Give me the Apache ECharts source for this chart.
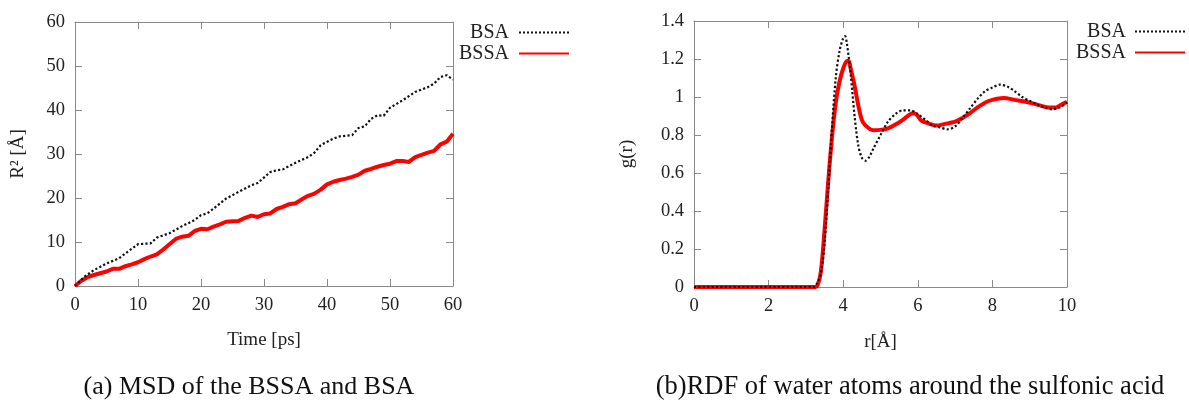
<!DOCTYPE html>
<html>
<head>
<meta charset="utf-8">
<script src="https://cdn.jsdelivr.net/npm/echarts@6/dist/echarts.min.js"></script>
<style>html,body{margin:0;padding:0;background:#fff}#c{width:1189px;height:401px}</style>
</head>
<body>
<div id="c"></div>
<script>
// ---- MSD (a) ----
const msdBsaTime = [0,1.5,3,5,7,8,10,12,13,15,17,19,20,21,22,24,26,28,29,31,32,33,35,37,38,39,41,42,44,45,46,47,48,49,50,52,54,56,57,58,59,60];
const msdBsa = [0,2.1,3.6,5.1,6.3,7.4,9.5,9.7,11,12,13.6,15,16.1,16.5,17.6,19.9,21.4,22.9,23.4,25.9,26.3,26.5,28,29.3,30.3,32,33.5,34,34.3,35.9,36.3,38,38.8,38.7,40.5,42.2,44.1,45.2,46,47.5,47.9,46.9];
const msdBssaTime = [0,1,2,3,4,5,6,7,8,9,10,11,12,13,14,15,16,17,18,19,20,21,22,23,24,25,26,27,28,29,30,31,32,33,34,35,36,37,38,39,40,41,42,43,44,45,46,47,48,49,50,51,52,53,54,55,56,57,58,59,60];
const msdBssa = [0,1.2,2,2.5,2.9,3.3,3.9,3.9,4.5,4.9,5.4,6.1,6.7,7.2,8.3,9.5,10.7,11.2,11.4,12.5,13,12.9,13.5,14,14.6,14.7,14.8,15.5,16,15.7,16.3,16.5,17.5,18,18.6,18.8,19.7,20.5,21,21.9,23.1,23.7,24.1,24.4,24.8,25.3,26.2,26.6,27.1,27.5,27.8,28.4,28.4,28.2,29.3,29.8,30.3,30.7,32.2,32.8,34.6];
// ---- RDF (b) ----
const rdfBsaR = [0,3.2,3.3,3.4,3.5,3.6,3.7,3.8,3.9,4.0,4.05,4.1,4.2,4.3,4.4,4.5,4.6,4.7,4.8,5.0,5.2,5.4,5.6,5.8,6.0,6.2,6.4,6.6,6.8,7.0,7.2,7.4,7.6,7.8,8.0,8.2,8.4,8.6,8.8,9.0,9.2,9.4,9.6,9.8,10];
const rdfBsa = [0,0,0.02,0.07,0.23,0.52,0.84,1.1,1.24,1.31,1.32,1.28,1.12,0.91,0.75,0.68,0.665,0.685,0.725,0.80,0.87,0.91,0.93,0.93,0.91,0.88,0.85,0.84,0.83,0.845,0.89,0.94,0.99,1.03,1.05,1.065,1.055,1.03,1.0,0.98,0.96,0.945,0.935,0.945,0.97];
const rdfBssaR = [0,3.2,3.3,3.4,3.5,3.6,3.7,3.8,3.9,4.0,4.1,4.15,4.2,4.3,4.4,4.5,4.6,4.8,5.0,5.2,5.4,5.6,5.8,5.9,6.0,6.1,6.3,6.5,6.7,7.0,7.2,7.4,7.6,7.8,8.0,8.3,8.6,8.9,9.2,9.5,9.7,9.85,10];
const rdfBssa = [0,0,0.005,0.08,0.3,0.56,0.79,0.97,1.08,1.15,1.19,1.19,1.15,1.065,0.96,0.88,0.85,0.825,0.827,0.835,0.855,0.88,0.91,0.915,0.90,0.875,0.86,0.85,0.857,0.87,0.89,0.915,0.945,0.97,0.985,0.995,0.985,0.975,0.96,0.945,0.945,0.96,0.975];
const seriesNames = ['BSA', 'BSSA'];
const captions = ['(a) MSD of the BSSA and BSA', '(b)RDF of water atoms around the sulfonic acid'];

const FONT = 'Liberation Serif';
const FRAME = '#8a8a8a';
const TXT = '#222';
const zip = (a, b) => a.map((v, i) => [v, b[i]]);

function axisPair(gridIndex, type, min, max, interval, name, nameGap) {
  const main = {
    type: 'value', gridIndex, min, max, interval,
    position: type === 'x' ? 'bottom' : 'left',
    name, nameLocation: 'middle', nameGap,
    nameTextStyle: { fontFamily: FONT, fontSize: 19, color: TXT },
    axisLine: { show: true, onZero: false, lineStyle: { color: FRAME, width: 1 } },
    axisTick: { show: true, inside: true, length: 7, lineStyle: { color: FRAME } },
    axisLabel: { fontFamily: FONT, fontSize: 18.5, color: TXT, margin: 10 },
    splitLine: { show: false }
  };
  const mirror = {
    type: 'value', gridIndex, min, max, interval,
    position: type === 'x' ? 'top' : 'right',
    axisLine: { show: true, onZero: false, lineStyle: { color: FRAME, width: 1 } },
    axisTick: { show: true, inside: true, length: 7, lineStyle: { color: FRAME } },
    axisLabel: { show: false },
    splitLine: { show: false }
  };
  return [main, mirror];
}

function legendAt(data, right, top, padRight) {
  return {
    data, right, top,
    orient: 'vertical', align: 'right', itemWidth: 50, itemHeight: 14, itemGap: 0, padding: 0,
    itemStyle: { opacity: 0 },
    textStyle: { fontFamily: FONT, fontSize: 20, color: TXT, lineHeight: 21, padding: [0, padRight, 0, 0] }
  };
}

const chart = echarts.init(document.getElementById('c'));
chart.setOption({
  animation: false,
  backgroundColor: '#fff',
  grid: [
    { left: 75, top: 22, width: 378, height: 264 },
    { left: 694, top: 21, width: 373, height: 266 }
  ],
  xAxis: [
    ...axisPair(0, 'x', 0, 60, 10, 'Time [ps]', 45),
    ...axisPair(1, 'x', 0, 10, 2, 'r[Å]', 46)
  ],
  yAxis: [
    ...axisPair(0, 'y', 0, 60, 10, 'R² [Å]', 47),
    ...axisPair(1, 'y', 0, 1.4, 0.2, 'g(r)', 57)
  ],
  legend: [
    legendAt(seriesNames.map(n => n + ' '), 619, 22, 0),
    legendAt(seriesNames, 3, 21, 4)
  ],
  title: [
    { text: captions[0], left: 244, top: 369, textAlign: 'center',
      textStyle: { fontFamily: FONT, fontSize: 26, fontWeight: 'normal', color: '#111' } },
    { text: captions[1], left: 905, top: 369, textAlign: 'center',
      textStyle: { fontFamily: FONT, fontSize: 26.5, fontWeight: 'normal', color: '#111' } }
  ],
  series: [
    { name: seriesNames[0] + ' ', type: 'line', xAxisIndex: 0, yAxisIndex: 0, symbol: 'none',
      data: zip(msdBsaTime, msdBsa), z: 3,
      lineStyle: { color: '#111', width: 2.2, type: 'dotted' }, itemStyle: { color: '#111' } },
    { name: seriesNames[1] + ' ', type: 'line', xAxisIndex: 0, yAxisIndex: 0, symbol: 'none',
      data: zip(msdBssaTime, msdBssa), z: 2,
      lineStyle: { color: '#ff0000', width: 4 }, itemStyle: { color: '#ff0000' } },
    { name: seriesNames[0], type: 'line', xAxisIndex: 2, yAxisIndex: 2, symbol: 'none', smooth: 0.3,
      data: zip(rdfBsaR, rdfBsa), z: 3,
      lineStyle: { color: '#111', width: 2.2, type: 'dotted' }, itemStyle: { color: '#111' } },
    { name: seriesNames[1], type: 'line', xAxisIndex: 2, yAxisIndex: 2, symbol: 'none', smooth: 0.3,
      data: zip(rdfBssaR, rdfBssa), z: 2,
      lineStyle: { color: '#ff0000', width: 4 }, itemStyle: { color: '#ff0000' } }
  ]
});
</script>
</body>
</html>
